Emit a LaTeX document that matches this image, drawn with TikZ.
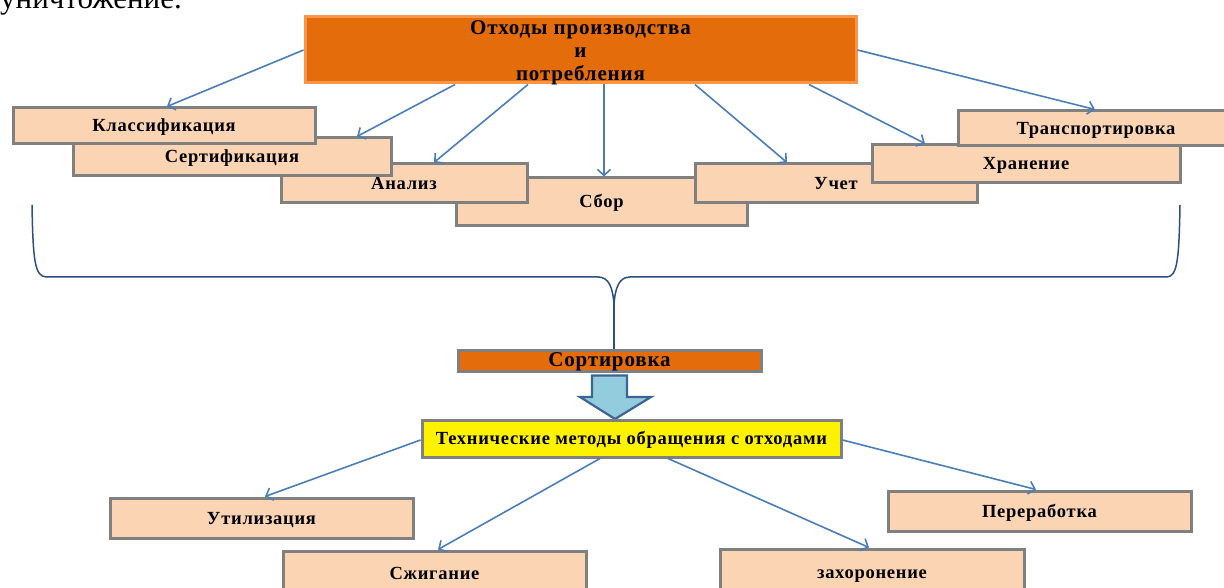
\documentclass[tikz,border=0pt]{standalone}
\usepackage{fontspec}
\setmainfont{Liberation Serif}
\newfontfamily\boxfont{Liberation Serif}[LetterSpace=4]
\usetikzlibrary{arrows.meta}
\definecolor{orangefill}{HTML}{E46C0A}
\definecolor{orangeline}{HTML}{F79646}
\definecolor{peach}{HTML}{FBD4B4}
\definecolor{boxgray}{HTML}{808080}
\definecolor{arrowblue}{HTML}{4A7EBB}
\definecolor{bracecol}{HTML}{2C5082}
\definecolor{blockfill}{HTML}{93CDDD}
\definecolor{blockline}{HTML}{3C6494}
\tikzset{
  pbox/.style={draw=boxgray, fill=peach, line width=3pt, inner sep=0pt,
    text height=14pt, text depth=2pt,
    font={\fontsize{18.5}{21}\selectfont\boxfont\bfseries}, text=black},
  topbox/.style={draw=orangeline, fill=orangefill, line width=3pt, inner sep=0pt},
  toptext/.style={inner sep=0pt, align=center,
    font={\fontsize{21}{23}\selectfont\boxfont\bfseries}},
  sortbox/.style={draw=boxgray, fill=orangefill, line width=3pt, inner sep=0pt,
    text height=14pt, text depth=3pt,
    font={\fontsize{21}{22}\selectfont\boxfont\bfseries}},
  techbox/.style={draw=boxgray, fill=yellow, line width=3pt, inner sep=0pt,
    text height=14pt, text depth=2pt,
    font={\fontsize{18.5}{21}\selectfont\boxfont\bfseries}},
  conn/.style={draw=arrowblue, line width=1.6pt, -{Straight Barb[length=6pt,width=13pt,line width=1.6pt]}},
  bracestyle/.style={draw=bracecol, line width=1.5pt},
  blockarrow/.style={draw=blockline, fill=blockfill, line width=2.2pt, line join=miter}
}
\begin{document}
\begin{tikzpicture}[x=1pt,y=-1pt]
\useasboundingbox (0,0) rectangle (1224,588);
\clip (0,0) rectangle (1224,588);

% partially visible text at the top
\node[anchor=base west, inner sep=0pt, font=\fontsize{31}{34}\selectfont] (cut) at (0,9) {уничтожение.};

% top node
\node[topbox, minimum width=551pt, minimum height=66pt] (top) at (580.5,50) {};
\node[toptext] (toplabel) at ([yshift=-3pt]top.center)
  {Отходы производства\\и\\потребления};

% upper row of boxes (drawing order = stacking order)
\node[pbox, minimum width=291pt, minimum height=48pt] (sbor) at (601.5,202) {Сбор};
\node[pbox, minimum width=246pt, minimum height=39pt] (anal) at (404,183.5) {Анализ};
\node[pbox, minimum width=282pt, minimum height=39pt] (uchet) at (836,183.5) {Учет};
\node[pbox, minimum width=318pt, minimum height=38pt] (sert) at (232,157) {Сертификация};
\node[pbox, minimum width=308pt, minimum height=38pt] (hran) at (1026,164) {Хранение};
\node[pbox, minimum width=302pt, minimum height=36pt] (klass) at (164,126) {Классификация};
\node[pbox, minimum width=276pt, minimum height=35pt] (trans) at (1096,128.5) {Транспортировка};

% connectors from the top node
\draw[conn] (top.west) -- ([xshift=3pt]klass.north);
\draw[conn] ([xshift=-125.5pt]top.south) -- ([xshift=125pt]sert.north);
\draw[conn] ([xshift=-52.5pt]top.south) -- ([xshift=30pt]anal.north);
\draw[conn] ([xshift=23.5pt]top.south) -- ([xshift=2.5pt]sbor.north);
\draw[conn] ([xshift=114.5pt]top.south) -- ([xshift=-49pt]uchet.north);
\draw[conn] ([xshift=228.5pt]top.south) -- ([xshift=-101pt]hran.north);
\draw[conn] (top.east) -- ([xshift=-1pt]trans.north);

% sorting node
\node[sortbox, minimum width=303pt, minimum height=21pt] (sort) at (609.5,360.5) {Сортировка};

% brace
\coordinate (braceL) at (32,205);
\coordinate (braceR) at (1180,205);
\coordinate (braceM) at (614,305);
\draw[bracestyle] (braceL) .. controls (33,262) and (35,276) .. (46,277)
  -- (598,277) .. controls (609,277) and (613,288) .. (braceM);
\draw[bracestyle] (braceR) .. controls (1179,262) and (1177,276) .. (1167,277)
  -- (630,277) .. controls (619,277) and (615,288) .. (braceM);
\draw[bracestyle] (braceM) -- (sort.north -| braceM);

% block arrow
\draw[blockarrow] ([xshift=-17.5pt,yshift=-3pt]sort.south) -- ([xshift=17.5pt,yshift=-3pt]sort.south)
  -- (627,397) -- (651,397) -- (615,419) -- (580,397) -- (592,397) -- cycle;

% technical methods node
\node[techbox, minimum width=419pt, minimum height=37pt] (tech) at (631.5,438.5)
  {Технические методы обращения с отходами};

% lower boxes
\node[pbox, minimum width=303pt, minimum height=40pt] (util) at (261.5,518) {Утилизация};
\node[pbox, minimum width=303pt, minimum height=40pt] (pere) at (1039.5,511) {Переработка};
\node[pbox, minimum width=303pt, minimum height=44pt] (szhig) at (434.5,573) {Сжигание};
\node[pbox, minimum width=304pt, minimum height=46pt] (zahor) at (872,572) {захоронение};

% connectors from the technical methods node
\draw[conn] ([yshift=-1.5pt]tech.west) -- ([xshift=3.5pt]util.north);
\draw[conn] ([xshift=-31.5pt]tech.south) -- ([xshift=3.5pt]szhig.north);
\draw[conn] ([xshift=36.5pt]tech.south) -- ([xshift=-3pt]zahor.north);
\draw[conn] ([yshift=-1.5pt]tech.east) -- ([xshift=-3.5pt]pere.north);
\end{tikzpicture}
\end{document}
